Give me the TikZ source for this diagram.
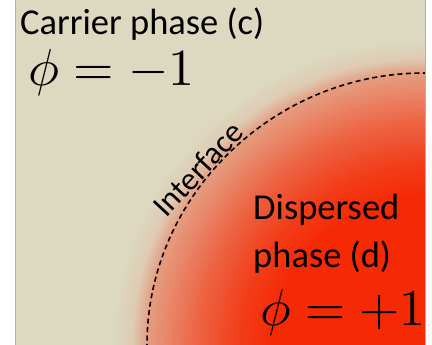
\documentclass[tikz,border=0pt]{standalone}
\usepackage{fontspec}
\setmainfont{Carlito}
\usepackage{graphicx}
\usetikzlibrary{calc}
\definecolor{bg}{RGB}{221,216,192}
\definecolor{core}{RGB}{245,42,5}
\definecolor{framecol}{RGB}{180,178,160}
\begin{document}
\begin{tikzpicture}[x=1pt,y=-1pt,
  lbl/.style={inner sep=0pt, anchor=base west, font=\fontsize{36.5}{40}\selectfont},
  eq/.style={inner sep=0pt, anchor=base west},
  iface/.style={draw=black, line width=1.6pt, dash pattern=on 5pt off 3.5pt}]
\useasboundingbox (0,0) rectangle (432,345);
\coordinate (C) at (440,362);
\begin{scope}
\clip (15,0) rectangle (425,345);
\fill[bg] (15,0) rectangle (425,345);
\foreach \d in {-34,-32,...,124}{
  \pgfmathsetmacro\s{1-\d/288}
  \pgfmathtruncatemacro\p{(\d<-15) ? max(0,(\d+34)/19*8) : ((\d<0) ? 8+(\d+15)/15*27 : ((\d<50) ? 35+\d/50*33 : ((\d<90) ? 68+(\d-50)/40*22 : min(100,90+(\d-90)/30*10))))}
  \fill[core!\p!bg] ($(C)!\s!(147,420)$) -- ($(C)!\s!(147,345)$) .. controls ($(C)!\s!(147,195)$) and ($(C)!\s!(274,73)$) .. ($(C)!\s!(424,73)$) -- ($(C)!\s!(480,73)$) -- ($(C)!\s!(480,420)$) -- cycle;
}
\draw[iface] (147,400) -- (147,345) .. controls (147,195) and (274,73) .. (424,73) -- (440,73);
\end{scope}
\draw[framecol, line width=0.8pt] (15,0) -- (15,345) (425,0) -- (425,345);
\node[lbl] (carrier) at (20,35) {Carrier phase (c)};
\node[eq] (eqc) at (28,86) {\scalebox{5.2}{$\phi = -1$}};
\node[lbl] (disp1) at (253,220) {Dispersed};
\node[lbl] (disp2) at (253,267) {phase (d)};
\node[eq] (eqd) at (260,325) {\scalebox{5.15}{$\phi = +1$}};
\node[rotate=47, inner sep=0pt, font=\fontsize{32}{36}\selectfont] (itext) at (198,169) {Interface};
\end{tikzpicture}
\end{document}
